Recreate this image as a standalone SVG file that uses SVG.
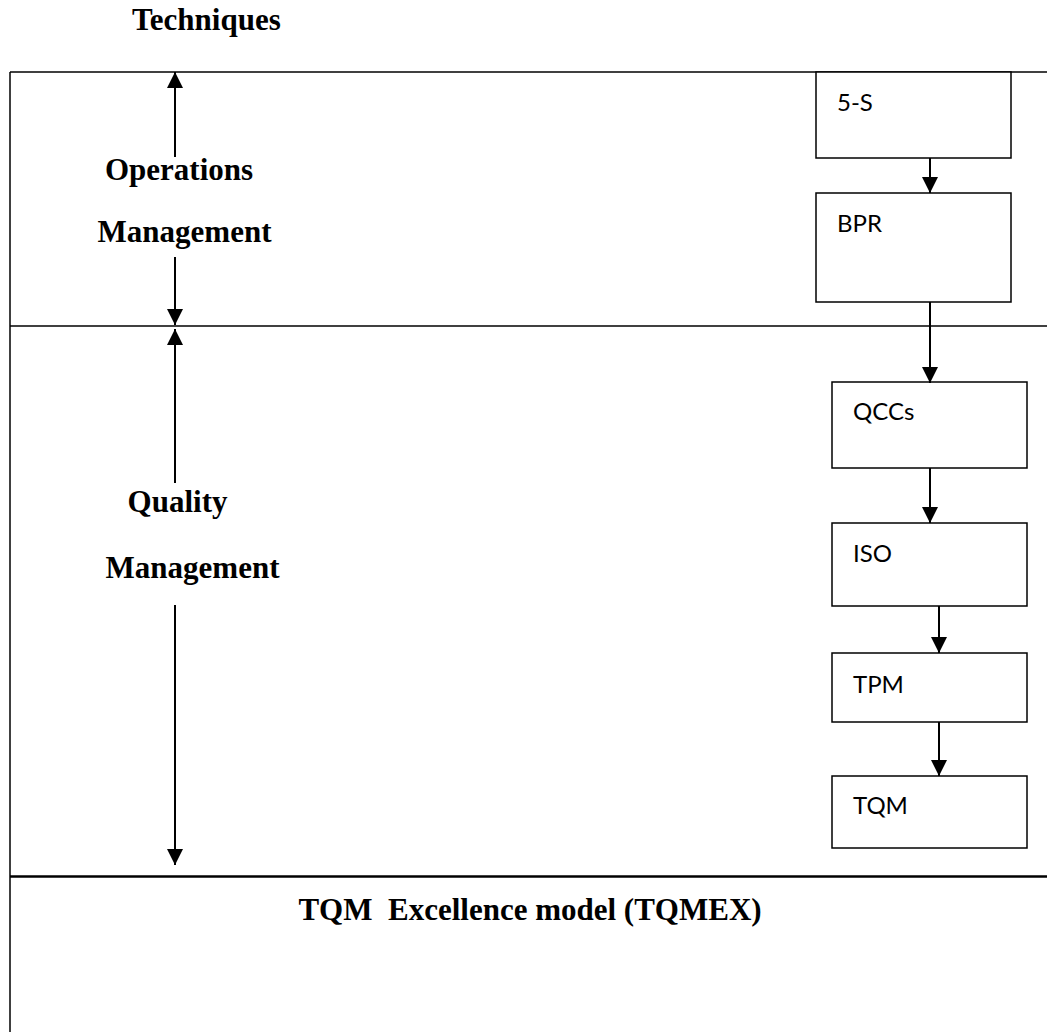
<svg xmlns="http://www.w3.org/2000/svg" width="1047" height="1032" viewBox="0 0 1047 1032">
  <style>
    .frame { stroke: #000; fill: none; }
    .head { font-family: "Liberation Serif", "Times New Roman", serif; font-weight: bold; font-size: 31px; fill: #000; }
    .box rect { fill: #fff; stroke: #000; stroke-width: 1.5; }
    .box text { font-family: Lato, "Liberation Sans", sans-serif; font-size: 24px; fill: #000; }
    .conn line { stroke: #000; stroke-width: 2; }
  </style>
  <defs>
    <marker id="arrow" markerUnits="userSpaceOnUse" markerWidth="16" markerHeight="16" refX="16" refY="8" orient="auto">
      <path d="M0,0 L16,8 L0,16 z" fill="#000"/>
    </marker>
  </defs>
  <rect width="1047" height="1032" fill="#fff"/>

  <!-- page frame and band dividers -->
  <g id="frame">
    <line class="frame" x1="10" y1="72" x2="1047" y2="72" stroke-width="1.3"/>
    <line class="frame" x1="10" y1="72" x2="10" y2="1032" stroke-width="1.5"/>
    <line class="frame" x1="10" y1="326" x2="1047" y2="326" stroke-width="1.6"/>
    <line class="frame" x1="10" y1="876.5" x2="1047" y2="876.5" stroke-width="2.5"/>
  </g>

  <!-- headings -->
  <g id="title">
    <text class="head" x="132" y="30">Techniques</text>
  </g>
  <g id="ops-label">
    <text class="head" x="179" y="180" text-anchor="middle">Operations</text>
    <text class="head" x="184.5" y="242" text-anchor="middle">Management</text>
  </g>
  <g id="quality-label">
    <text class="head" x="177.5" y="512" text-anchor="middle">Quality</text>
    <text class="head" x="192.5" y="578" text-anchor="middle">Management</text>
  </g>
  <g id="tqmex-label">
    <text class="head" x="530" y="920" text-anchor="middle" font-size="32" xml:space="preserve">TQM  Excellence model (TQMEX)</text>
  </g>

  <!-- technique boxes -->
  <g id="n-5s" class="box">
    <rect x="816" y="72" width="195" height="86"/>
    <text x="837" y="111">5-S</text>
  </g>
  <g id="n-bpr" class="box">
    <rect x="816" y="193" width="195" height="109"/>
    <text x="837" y="232">BPR</text>
  </g>
  <g id="n-qccs" class="box">
    <rect x="832" y="382" width="195" height="86"/>
    <text x="853" y="420">QCCs</text>
  </g>
  <g id="n-iso" class="box">
    <rect x="832" y="523" width="195" height="83"/>
    <text x="853" y="562">ISO</text>
  </g>
  <g id="n-tpm" class="box">
    <rect x="832" y="653" width="195" height="69"/>
    <text x="853" y="693">TPM</text>
  </g>
  <g id="n-tqm" class="box">
    <rect x="832" y="776" width="195" height="72"/>
    <text x="853" y="814">TQM</text>
  </g>

  <!-- connectors -->
  <g id="connectors" class="conn">
    <!-- span arrows for the management bands -->
    <line x1="175" y1="157" x2="175" y2="72" marker-end="url(#arrow)"/>
    <line x1="175" y1="257" x2="175" y2="325" marker-end="url(#arrow)"/>
    <line x1="175" y1="483" x2="175" y2="329" marker-end="url(#arrow)"/>
    <line x1="175" y1="605" x2="175" y2="865" marker-end="url(#arrow)"/>
    <!-- technique sequence -->
    <line x1="930" y1="158" x2="930" y2="193" marker-end="url(#arrow)"/>
    <line x1="930" y1="302" x2="930" y2="383" marker-end="url(#arrow)"/>
    <line x1="930" y1="468" x2="930" y2="523" marker-end="url(#arrow)"/>
    <line x1="939" y1="606" x2="939" y2="653" marker-end="url(#arrow)"/>
    <line x1="939" y1="722" x2="939" y2="776" marker-end="url(#arrow)"/>
  </g>
</svg>
